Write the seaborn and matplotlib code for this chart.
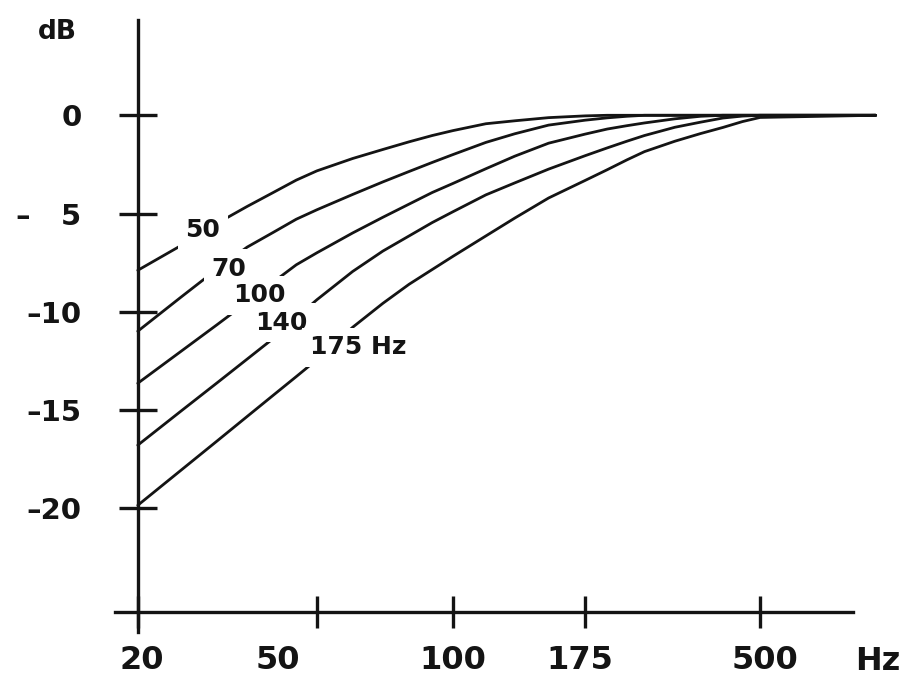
import numpy as np
import pandas as pd
import matplotlib
matplotlib.use("Agg")
import matplotlib.pyplot as plt
import seaborn as sns
from matplotlib.transforms import ScaledTranslation

# --------------------
# Data
# --------------------
freq_hz = [20, 25, 30, 35, 40, 45, 50, 60, 70, 80, 90, 100, 115, 130, 150,
           175, 200, 225, 250, 300, 350, 400, 450, 500, 1000]

db_50 = [-7.89, -6.62, -5.50, -4.64, -3.93, -3.30, -2.83, -2.20, -1.74, -1.35, -1.03, -0.78, -0.43,
         -0.28, -0.12, -0.03, 0, 0, 0, 0, 0, 0, 0, 0, 0]
db_70 = [-10.99, -9.24, -7.83, -6.71, -5.96, -5.29, -4.81, -4.03, -3.39, -2.86, -2.40, -2.00, -1.38,
         -0.94, -0.50, -0.25, -0.13, -0.05, 0, 0, 0, 0, 0, 0, 0]
db_100 = [-13.64, -12.00, -10.66, -9.51, -8.49, -7.61, -7.00, -5.99, -5.19, -4.52, -3.93, -3.47, -2.72,
          -2.08, -1.42, -0.96, -0.70, -0.53, -0.39, -0.18, -0.05, 0, 0, 0, 0]
db_140 = [-16.79, -15.04, -13.62, -12.41, -11.36, -10.30, -9.39, -7.95, -6.91, -6.14, -5.46, -4.91, -4.05,
          -3.44, -2.74, -2.06, -1.66, -1.32, -1.03, -0.61, -0.35, -0.14, -0.04, 0, 0]
db_175 = [-19.85, -18.05, -16.58, -15.33, -14.25, -13.30, -12.44, -10.79, -9.57, -8.60, -7.85, -7.18, -6.14,
          -5.23, -4.21, -3.32, -2.77, -2.27, -1.85, -1.32, -0.93, -0.62, -0.32, -0.11, 0]

curve_names = ["50", "70", "100", "140", "175 Hz"]
curve_db = [db_50, db_70, db_100, db_140, db_175]

# where the curve labels sit (Hz, dB)
label_hz = [27.9, 31.9, 37.3, 41.6, 61.6]
label_db = [-5.85, -7.8, -9.15, -10.55, -11.8]

x_ticks = [20, 50, 100, 175, 500]
x_tick_labels = ["20", "50", "100", "175", "500"]
y_ticks = [0, -5, -10, -15, -20]
y_tick_labels = ["0", "–   5", "–10", "–15", "–20"]

# hand drawn frequency axis: tick marks are not on a true log grid
axis_pos = [0, 179, 315, 447, 622]

df = pd.DataFrame({
    "hz": freq_hz * len(curve_names),
    "db": sum(curve_db, []),
    "curve": np.repeat(curve_names, len(freq_hz)),
})

la = np.log10(x_ticks)
s_lo = (axis_pos[1] - axis_pos[0]) / (la[1] - la[0])
s_hi = (axis_pos[-1] - axis_pos[-2]) / (la[-1] - la[-2])


def fwd(f):
    lf = np.log10(np.maximum(np.asarray(f, dtype=float), 1e-9))
    out = np.interp(lf, la, axis_pos)
    out = np.where(lf < la[0], axis_pos[0] + (lf - la[0]) * s_lo, out)
    out = np.where(lf > la[-1], axis_pos[-1] + (lf - la[-1]) * s_hi, out)
    return out


def inv(p):
    p = np.asarray(p, dtype=float)
    lf = np.interp(p, axis_pos, la)
    lf = np.where(p < axis_pos[0], la[0] + (p - axis_pos[0]) / s_lo, lf)
    lf = np.where(p > axis_pos[-1], la[-1] + (p - axis_pos[-1]) / s_hi, lf)
    return 10 ** lf


# --------------------
# Plot
# --------------------
sns.set_style("white")
plt.rcParams["font.family"] = ["DejaVu Sans"]

ink = "#141414"

fig = plt.figure(figsize=(9.09, 6.87), dpi=100)
ax = fig.add_axes([115 / 909, 55 / 687, 738 / 909, 612 / 687])
ax.set_xscale("function", functions=(fwd, inv))

sns.lineplot(
    data=df, x="hz", y="db", hue="curve",
    palette={n: ink for n in curve_names},
    estimator=None, legend=False, linewidth=2.0,
    clip_on=False, ax=ax,
)

ax.set_xlim(17.8, 873)
ax.set_ylim(-26.3, 4.85)

for side in ["top", "right"]:
    ax.spines[side].set_visible(False)
ax.spines["left"].set_position(("data", 20))
ax.spines["bottom"].set_position(("data", -25.3))
for side in ["left", "bottom"]:
    ax.spines[side].set_linewidth(2.4)
    ax.spines[side].set_color(ink)

ax.set_xticks(x_ticks)
ax.set_xticklabels(x_tick_labels)
ax.set_yticks(y_ticks)
ax.set_yticklabels(y_tick_labels)
ax.minorticks_off()
ax.tick_params(axis="x", bottom=True, direction="inout", length=23, width=2.4,
               pad=12, labelsize=23, colors=ink)
ax.tick_params(axis="y", left=True, direction="inout", length=27, width=2.4,
               pad=27, labelsize=21, colors=ink)
for lab in ax.get_xticklabels() + ax.get_yticklabels():
    lab.set_fontweight("bold")
ax.set_xlabel("")
ax.set_ylabel("")

for name, hz, db in zip(curve_names, label_hz, label_db):
    ax.text(hz, db, name, ha="center", va="center", fontsize=18,
            fontweight="bold", color=ink,
            bbox=dict(boxstyle="square,pad=0.3", fc="white", ec="none"))

fig.text(57 / 909, 1 - 32 / 687, "dB", ha="center", va="center",
         fontsize=19, fontweight="bold", color=ink)
fig.text(878 / 909, 1 - 662 / 687, "Hz", ha="center", va="center",
         fontsize=23, fontweight="bold", color=ink)

# labels under the hand drawn ticks are a little off the marks
shift_pt = [3, -28, 0, -3.6, 3.6]
for lab, dx in zip(ax.get_xticklabels(), shift_pt):
    lab.set_transform(lab.get_transform() + ScaledTranslation(dx / 72, 0, fig.dpi_scale_trans))

fig.savefig("out.png", dpi=100)
